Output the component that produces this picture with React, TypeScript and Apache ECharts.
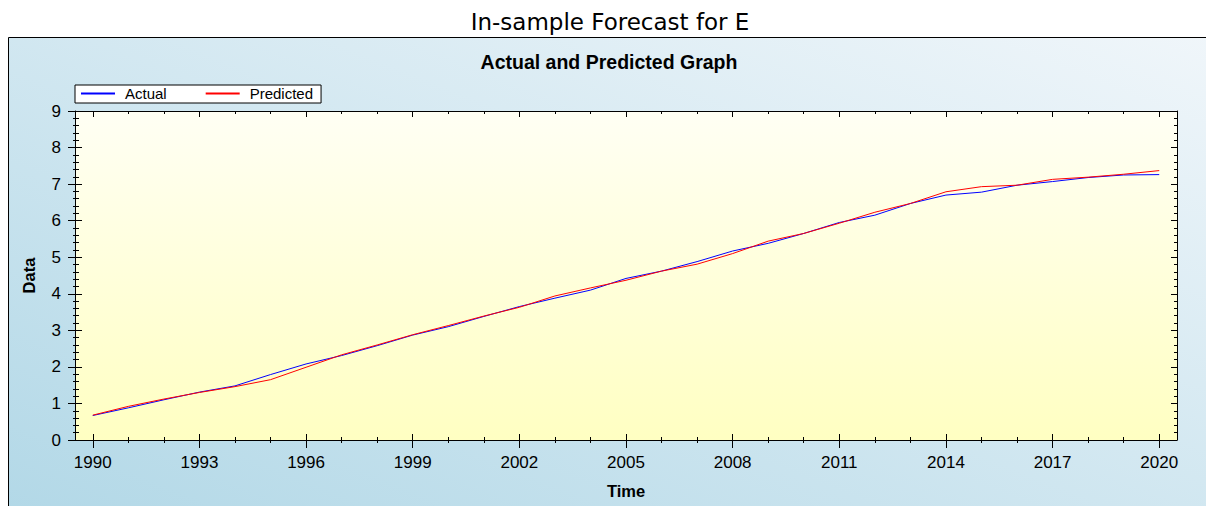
import React, { useEffect, useRef } from "react";
import * as echarts from "echarts";

const years = [
  "1990", "1991", "1992", "1993", "1994", "1995", "1996", "1997", "1998", "1999",
  "2000", "2001", "2002", "2003", "2004", "2005", "2006", "2007", "2008", "2009",
  "2010", "2011", "2012", "2013", "2014", "2015", "2016", "2017", "2018", "2019", "2020",
];
const actual = [
  0.67, 0.88, 1.1, 1.31, 1.48, 1.79, 2.08, 2.31, 2.58, 2.87,
  3.1, 3.38, 3.65, 3.88, 4.1, 4.42, 4.62, 4.88, 5.17, 5.38,
  5.65, 5.95, 6.15, 6.47, 6.7, 6.78, 6.97, 7.07, 7.18, 7.25, 7.26,
];
const predicted = [
  0.68, 0.92, 1.12, 1.3, 1.46, 1.65, 1.99, 2.33, 2.6, 2.88,
  3.13, 3.39, 3.63, 3.94, 4.16, 4.37, 4.62, 4.81, 5.1, 5.44,
  5.65, 5.93, 6.23, 6.47, 6.79, 6.93, 6.97, 7.13, 7.19, 7.27, 7.37,
];
const seriesNames = ["Actual", "Predicted"];

const SANS = "'Liberation Sans', Arial, sans-serif";

export default function App() {
  const ref = useRef<HTMLDivElement>(null);
  useEffect(() => {
    if (!ref.current) return;
    const chart = echarts.init(ref.current, undefined, { renderer: "svg" });
    const catBase = {
      type: "category" as const,
      data: years,
      boundaryGap: true,
      axisLabel: { show: false },
      axisLine: { show: false },
      splitLine: { show: false },
      gridIndex: 0,
    };
    const valBase = {
      type: "value" as const,
      min: 0,
      max: 9,
      interval: 1,
      axisLabel: { show: false },
      axisLine: { show: false },
      splitLine: { show: false },
      minorSplitLine: { show: false },
    };
    const tick = (inside: boolean, length: number, interval: number) => ({
      show: true,
      inside,
      length,
      interval,
      alignWithLabel: true,
      lineStyle: { color: "#000", width: 1 },
    });
    const minor = (length: number) => ({
      show: true,
      splitNumber: 5,
      length,
      lineStyle: { color: "#000", width: 1 },
    });
    chart.setOption({
      animation: false,
      title: [
        {
          text: "In-sample Forecast for E",
          left: 605,
          textAlign: "center",
          top: 5,
          textStyle: { fontFamily: "'DejaVu Sans', sans-serif", fontSize: 23, fontWeight: "normal", color: "#000" },
        },
        {
          text: "Actual and Predicted Graph",
          left: 604,
          textAlign: "center",
          top: 47,
          textStyle: { fontFamily: SANS, fontSize: 19.5, fontWeight: "bold", color: "#000" },
        },
      ],
      graphic: [
        {
          type: "rect",
          z: -10,
          shape: { x: 8.5, y: 37.5, width: 1210, height: 480 },
          style: {
            fill: new echarts.graphic.LinearGradient(0, 1, 1, 0, [
              { offset: 0, color: "#b2d8e7" },
              { offset: 1, color: "#f0f6fa" },
            ]),
            stroke: "#000",
            lineWidth: 1,
          },
        },
      ],
      legend: {
        left: 75,
        top: 85,
        orient: "horizontal",
        data: seriesNames,
        backgroundColor: "#fff",
        borderColor: "#000",
        borderWidth: 1,
        borderRadius: 0,
        padding: [1, 8, 2, 5],
        itemWidth: 34,
        itemHeight: 14,
        itemGap: 38,
        itemStyle: { opacity: 0 },
        textStyle: { fontFamily: SANS, fontSize: 15, color: "#000", padding: [0, 0, 0, 5] },
      },
      grid: {
        left: 75,
        right: 29,
        top: 111,
        bottom: 66,
        show: true,
        borderWidth: 0,
        backgroundColor: new echarts.graphic.LinearGradient(0, 0, 0, 1, [
          { offset: 0, color: "#fffff4" },
          { offset: 1, color: "#ffffc2" },
        ]),
      },
      xAxis: [
        {
          ...catBase,
          position: "bottom",
          axisLine: { show: true, lineStyle: { color: "#000", width: 1 } },
          axisTick: tick(true, 3, 0),
          axisLabel: {
            show: true,
            interval: 2,
            fontFamily: SANS,
            fontSize: 17,
            color: "#000",
            margin: 14,
          },
          name: "Time",
          nameLocation: "middle",
          nameGap: 42,
          nameTextStyle: { fontFamily: SANS, fontSize: 16.5, fontWeight: "bold", color: "#000" },
        },
        { ...catBase, position: "bottom", axisTick: tick(false, 3, 0) },
        { ...catBase, position: "bottom", axisTick: tick(true, 6, 2) },
        { ...catBase, position: "bottom", axisTick: tick(false, 8, 2) },
        {
          ...catBase,
          position: "top",
          axisLine: { show: true, lineStyle: { color: "#000", width: 1 } },
          axisTick: tick(true, 3, 0),
        },
        { ...catBase, position: "top", axisTick: tick(true, 6, 2) },
      ],
      yAxis: [
        {
          ...valBase,
          position: "left",
          axisLine: { show: true, lineStyle: { color: "#000", width: 1 } },
          axisTick: { show: true, inside: true, length: 7, lineStyle: { color: "#000" } },
          minorTick: minor(4),
        },
        {
          ...valBase,
          position: "left",
          axisTick: { show: true, inside: false, length: 7, lineStyle: { color: "#000" } },
          minorTick: minor(2),
          axisLabel: {
            show: true,
            fontFamily: SANS,
            fontSize: 17,
            color: "#000",
            margin: 14,
          },
          name: "Data",
          nameLocation: "middle",
          nameGap: 38,
          nameRotate: 90,
          nameTextStyle: { fontFamily: SANS, fontSize: 16.5, fontWeight: "bold", color: "#000" },
        },
        {
          ...valBase,
          position: "right",
          axisLine: { show: true, lineStyle: { color: "#000", width: 1 } },
          axisTick: { show: true, inside: true, length: 6, lineStyle: { color: "#000" } },
          minorTick: minor(3),
        },
      ],
      series: [
        {
          name: seriesNames[0],
          type: "line",
          data: actual,
          xAxisIndex: 0,
          yAxisIndex: 0,
          symbol: "none",
          lineStyle: { color: "#0000ff", width: 1 },
          itemStyle: { color: "#0000ff" },
          z: 3,
        },
        {
          name: seriesNames[1],
          type: "line",
          data: predicted,
          xAxisIndex: 0,
          yAxisIndex: 0,
          symbol: "none",
          lineStyle: { color: "#ff0000", width: 1 },
          itemStyle: { color: "#ff0000" },
          z: 4,
        },
      ],
    });
    return () => chart.dispose();
  }, []);
  return (
    <div
      ref={ref}
      style={{ position: "absolute", left: 0, top: 0, width: 1206, height: 506 }}
    />
  );
}
